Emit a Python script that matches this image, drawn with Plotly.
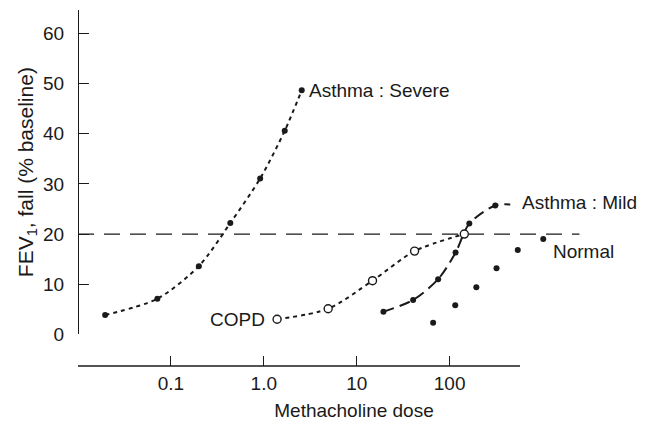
import math
import plotly.graph_objects as go

# Methacholine dose-response (FEV1 fall, % of baseline)
severe_dose = [0.0196, 0.0715, 0.20, 0.436, 0.914, 1.68, 2.56]
severe_fall = [3.85, 7.1, 13.6, 22.2, 31.1, 40.6, 48.7]

mild_dose = [19.4, 40.5, 75.3, 116, 163, 310]
mild_fall = [4.5, 6.85, 11.0, 16.3, 22.1, 25.7]
mild_tail_dose = 450
mild_tail_fall = 25.9

copd_dose = [1.39, 4.93, 14.8, 42, 144]
copd_fall = [3.0, 5.1, 10.7, 16.6, 20.0]

normal_dose = [66.5, 115, 194, 320, 542, 1019]
normal_fall = [2.3, 5.8, 9.4, 13.2, 16.8, 19.0]

threshold = 20
threshold_dose_end = 2500

# drawn extent of the dose axis
dose_axis_min = 0.01
dose_axis_max = 573

x_tickvals = [0.01, 0.1, 1, 10, 100]
x_ticktext = ["", "0.1", "1.0", "10", "100"]
y_tickvals = [0, 10, 20, 30, 40, 50, 60]

X_RANGE = [-2, 3.942]  # log10 units

FONT = "Liberation Sans, Arial, Helvetica, sans-serif"
INK = "#1a1a1a"
FS = 19

lg = math.log10

fig = go.Figure()

# severe asthma: short-dash curve with filled dots
fig.add_trace(go.Scatter(
    x=severe_dose, y=severe_fall, mode="lines+markers",
    line=dict(color=INK, width=2, dash="4px,4px", shape="spline", smoothing=0.8),
    marker=dict(color=INK, size=6),
    cliponaxis=False, showlegend=False,
))

# mild asthma: long-dash curve, drawn a little past the last dot
fig.add_trace(go.Scatter(
    x=mild_dose + [mild_tail_dose], y=mild_fall + [mild_tail_fall], mode="lines",
    line=dict(color=INK, width=2, dash="11px,6px", shape="spline", smoothing=0.8),
    showlegend=False,
))
fig.add_trace(go.Scatter(
    x=mild_dose, y=mild_fall, mode="markers",
    marker=dict(color=INK, size=6), showlegend=False,
))

# COPD: short-dash curve with open circles
fig.add_trace(go.Scatter(
    x=copd_dose, y=copd_fall, mode="lines+markers",
    line=dict(color=INK, width=2, dash="4px,4px", shape="spline", smoothing=0.8),
    marker=dict(color="white", size=8, line=dict(color=INK, width=1.4)),
    showlegend=False,
))

# normal subjects: dots only
fig.add_trace(go.Scatter(
    x=normal_dose, y=normal_fall, mode="markers",
    marker=dict(color=INK, size=6), cliponaxis=False, showlegend=False,
))

# 20% fall reference line
fig.add_shape(type="line", xref="x", yref="y",
              x0=dose_axis_min, x1=threshold_dose_end,
              y0=threshold, y1=threshold,
              line=dict(color=INK, width=1.3, dash="16px,10px"), layer="below")

# dose axis baseline, stopping at the end of the labelled scale
def x_frac(v):
    return (lg(v) - X_RANGE[0]) / (X_RANGE[1] - X_RANGE[0])

fig.add_shape(type="line", xref="paper", yref="paper",
              x0=x_frac(dose_axis_min), x1=x_frac(dose_axis_max), y0=0, y1=0,
              line=dict(color=INK, width=1.3), layer="above")

# curve labels (annotation x on a log axis is given as log10)
label_font = dict(family=FONT, size=FS, color=INK)
fig.add_annotation(x=lg(severe_dose[-1]), y=severe_fall[-1], text="Asthma : Severe",
                   xref="x", yref="y", xanchor="left", yanchor="middle",
                   showarrow=False, xshift=5, font=label_font)
fig.add_annotation(x=lg(mild_dose[-1]), y=mild_fall[-1], text="Asthma : Mild",
                   xref="x", yref="y", xanchor="left", yanchor="middle",
                   showarrow=False, xshift=25, yshift=3, font=label_font)
fig.add_annotation(x=lg(normal_dose[-1]), y=normal_fall[-1], text="Normal",
                   xref="x", yref="y", xanchor="left", yanchor="middle",
                   showarrow=False, xshift=8, yshift=-12, font=label_font)
fig.add_annotation(x=lg(copd_dose[0]), y=copd_fall[0], text="COPD",
                   xref="x", yref="y", xanchor="right", yanchor="middle",
                   showarrow=False, xshift=-10, yshift=0, font=label_font)

fig.update_layout(
    template="none",
    width=650, height=424,
    margin=dict(l=78, r=20, t=10, b=58, autoexpand=False),
    paper_bgcolor="white", plot_bgcolor="white",
    font=dict(family=FONT, size=FS, color=INK),
    showlegend=False,
    xaxis=dict(
        type="log", range=X_RANGE, anchor="free", position=0,
        automargin=False, showline=False,
        ticks="inside", ticklen=10, tickwidth=1.3, tickcolor=INK,
        tickvals=x_tickvals, ticktext=x_ticktext,
        showgrid=False, zeroline=False, ticklabelstandoff=4,
        title=dict(text="Methacholine dose", standoff=10, font=dict(size=FS)),
    ),
    yaxis=dict(
        range=[0, 64.7], domain=[0.089, 1], anchor="free", position=0,
        automargin=False,
        showline=True, linecolor=INK, linewidth=1.3, mirror=False,
        ticks="inside", ticklen=10, tickwidth=1.3, tickcolor=INK,
        tickvals=y_tickvals,
        showgrid=False, zeroline=False, ticklabelstandoff=10,
        title=dict(text="FEV<sub>1</sub>, fall (% baseline)", standoff=2, font=dict(size=21)),
    ),
)

fig.write_html("out.html")
